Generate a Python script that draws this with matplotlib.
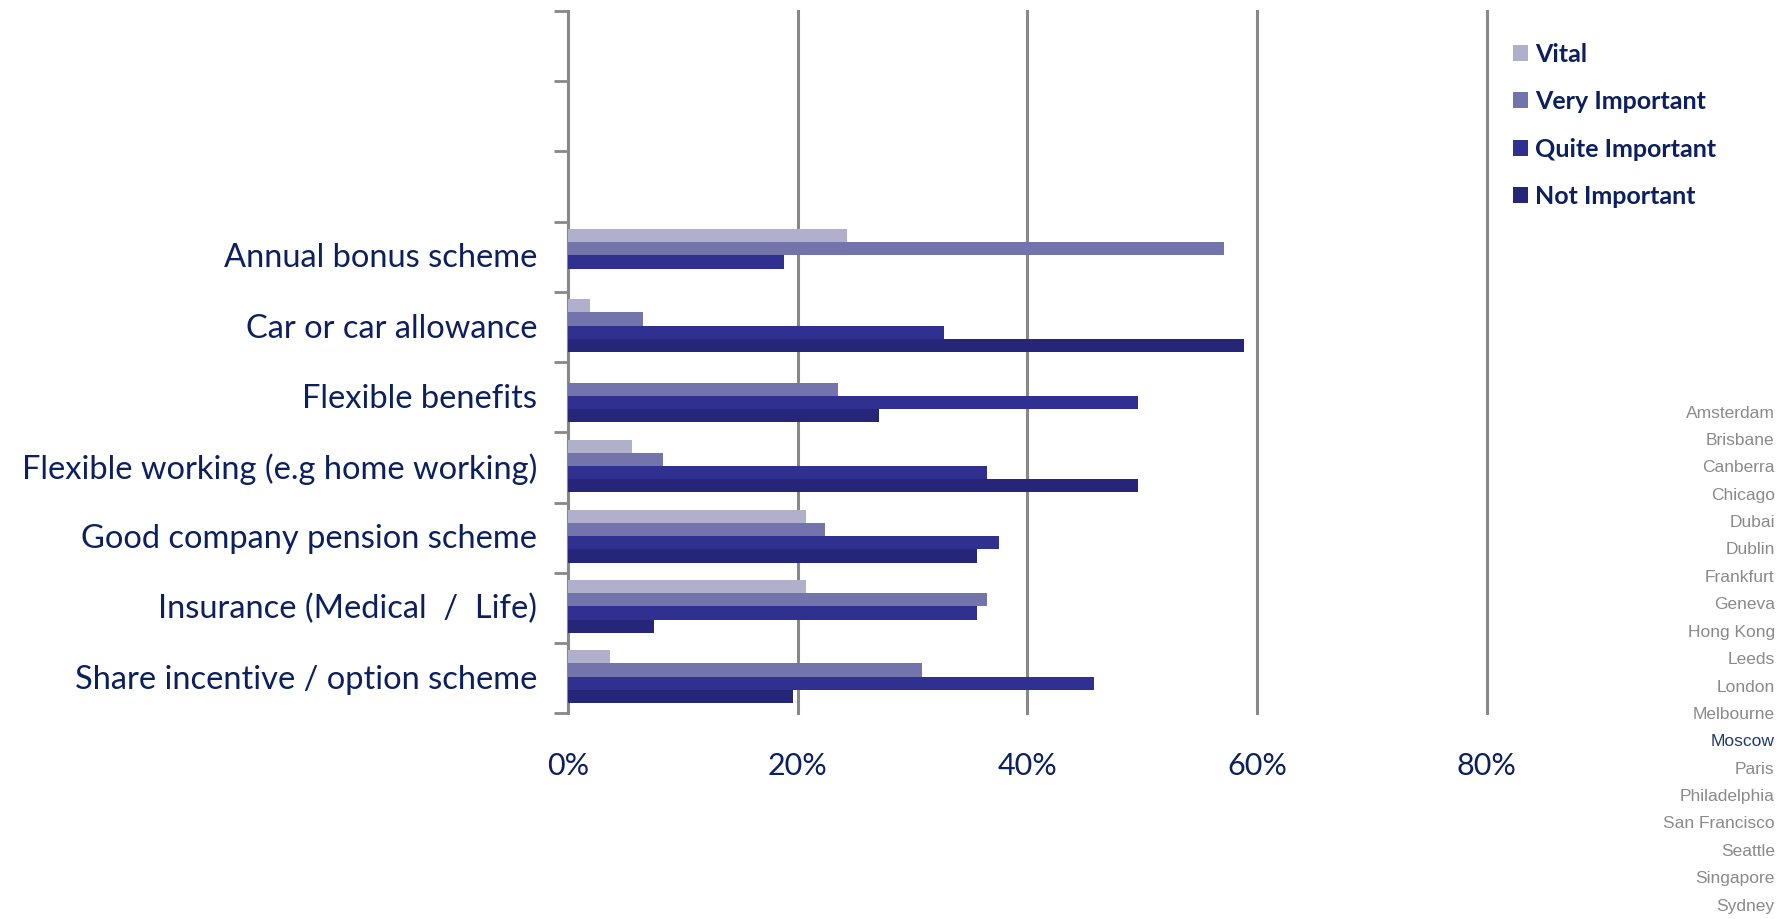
import matplotlib
matplotlib.use("Agg")
import matplotlib.pyplot as plt
import numpy as np
from matplotlib.patches import Patch

categories = ["Annual bonus scheme", "Car or car allowance", "Flexible benefits",
              "Flexible working (e.g home working)", "Good company pension scheme",
              "Insurance (Medical  /  Life)", "Share incentive / option scheme"]
series = ["Vital", "Very Important", "Quite Important", "Not Important"]
vital = [24.3, 1.9, 0.0, 5.6, 20.7, 20.7, 3.7]
very_important = [57.1, 6.5, 23.5, 8.3, 22.4, 36.5, 30.8]
quite_important = [18.8, 32.7, 49.6, 36.5, 37.5, 35.6, 45.8]
not_important = [0.0, 58.9, 27.1, 49.6, 35.6, 7.5, 19.6]
colors = ["#b0b0cc", "#7474ac", "#2f3090", "#252678"]
cities = ["Amsterdam", "Brisbane", "Canberra", "Chicago", "Dubai", "Dublin", "Frankfurt",
          "Geneva", "Hong Kong", "Leeds", "London", "Melbourne", "Moscow", "Paris",
          "Philadelphia", "San Francisco", "Seattle", "Singapore", "Sydney"]
selected_city = "Moscow"
xticks = [0, 20, 40, 60, 80]

navy = "#0c1f5e"
fig = plt.figure(figsize=(17.89, 9.19), dpi=100)
ax = fig.add_axes([0.3175, 0.224, 0.5135, 0.764])

n_slots = 10
bh = 0.1875
values = [vital, very_important, quite_important, not_important]
# 3 empty slots sit above the first category
centres = np.array([n_slots - 3 - i - 0.5 for i in range(len(categories))])
for j, (vals, c) in enumerate(zip(values, colors)):
    offs = (1.5 - j) * bh + 0.02
    ax.barh(centres + offs, vals, height=bh, color=c, zorder=3)

ax.set_xlim(0, 80)
ax.set_ylim(0, n_slots)
ax.set_xticks(xticks)
ax.set_xticklabels([f"{t}%" for t in xticks], fontsize=22, color=navy,
                   family=["Liberation Sans Narrow", "Lato"])
ax.tick_params(axis="x", length=0, pad=28)
ax.set_yticks(range(n_slots + 1))
ax.set_yticklabels([])
ax.set_yticks(centres + 0.02, minor=True)
ax.set_yticklabels(categories, minor=True, fontsize=23.5, color=navy, family="Lato")
ax.tick_params(axis="y", which="minor", length=0, pad=22)
ax.tick_params(axis="y", which="major", length=10, width=2, color="#888888", direction="out")
ax.grid(axis="x", color="#888888", linewidth=2.2, zorder=0)
for line in ax.get_xgridlines():
    line.set_clip_on(False)
for s in ["top", "right", "bottom"]:
    ax.spines[s].set_visible(False)
ax.spines["left"].set_color("#888888")
ax.spines["left"].set_linewidth(2)

handles = [Patch(facecolor=c, label=s) for c, s in zip(colors, series)]
leg = fig.legend(handles=handles, loc="upper left", bbox_to_anchor=(0.833, 0.978),
                 frameon=False, handlelength=0.6, handleheight=0.6, handletextpad=0.3,
                 labelspacing=0.98, prop={"family": "Lato", "weight": "bold", "size": 18})
for t in leg.get_texts():
    t.set_color(navy)

y0 = 1 - 413 / 919
step = 27.4 / 919
for i, city in enumerate(cities):
    fig.text(0.992, y0 - i * step, city, ha="right", va="center", fontsize=12.5,
             family="Liberation Sans",
             color="#1f3a6e" if city == selected_city else "#8a8a8a")

fig.savefig("out.png", dpi=100)
